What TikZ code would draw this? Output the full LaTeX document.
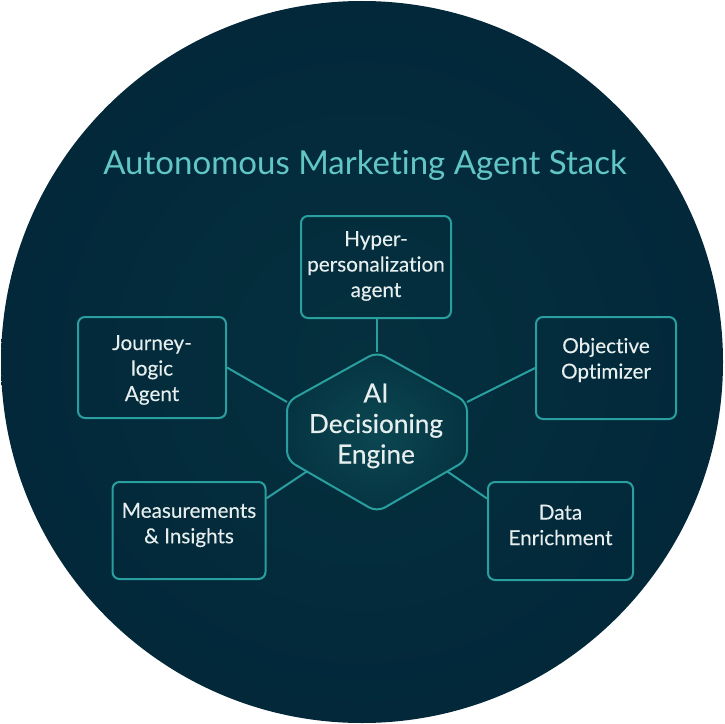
\documentclass[tikz,border=0pt]{standalone}
\usepackage{fontspec}
\setmainfont[Ligatures=NoCommon]{Lato}
\newfontfamily\hexfont[FakeBold=0.3,Ligatures=NoCommon]{Lato}
\newfontfamily\boxfont[FakeBold=0.15,Ligatures=NoCommon]{Lato}
\usetikzlibrary{calc}
\definecolor{circin}{HTML}{05303E}
\definecolor{circout}{HTML}{02283A}
\definecolor{hexin}{HTML}{0B4752}
\definecolor{hexout}{HTML}{053441}
\definecolor{tealline}{HTML}{2A9FA0}
\definecolor{titlec}{HTML}{62C6C6}
\definecolor{txtc}{HTML}{E6EEEE}
\tikzset{
  agentbox/.style={draw=tealline, line width=2bp, rounded corners=7bp, inner sep=0pt},
  boxtxt/.style={text=txtc, align=center, inner sep=0pt, font=\boxfont\fontsize{20.7bp}{25.5bp}\selectfont},
  hextxt/.style={text=txtc, align=center, inner sep=0pt, font=\hexfont\fontsize{26.2bp}{30.5bp}\selectfont},
  link/.style={draw=tealline, line width=2bp},
  titletxt/.style={text=titlec, inner sep=0pt, font=\fontsize{33bp}{38bp}\selectfont}
}
\begin{document}
\begin{tikzpicture}[x=1bp,y=-1bp]
\useasboundingbox (0,0) rectangle (724,724);
\fill[white] (0,0) rectangle (724,724);
\shade[inner color=circin, outer color=circout] (362,362) circle[radius=361];

% title
\node[titletxt, anchor=base] (title) at (365,174.6) {Autonomous Marketing Agent Stack};

% hexagon corners
\coordinate (hT) at (377,352);
\coordinate (hUR) at (467,402);
\coordinate (hLR) at (467,460);
\coordinate (hB) at (377,512);
\coordinate (hLL) at (287,460);
\coordinate (hUL) at (287,402);
\coordinate (hDR) at ($(hLR)!0.22!(hB)$);
\coordinate (hDL) at ($(hLL)!0.22!(hB)$);

% boxes
\node[agentbox, minimum width=150bp, minimum height=102bp] (hyp) at (376,267) {};
\node[agentbox, minimum width=148bp, minimum height=101bp] (jour) at (152,367.5) {};
\node[agentbox, minimum width=140bp, minimum height=102bp] (obj) at (606,368) {};
\node[agentbox, minimum width=145bp, minimum height=98bp] (data) at (560.5,531) {};
\node[agentbox, minimum width=153bp, minimum height=97bp] (meas) at (189,530.5) {};

% connectors
\draw[link] (hyp.south -| hT) -- (hT);
\draw[link] (jour.east) -- (hUL);
\draw[link] (obj.west) -- (hUR);
\draw[link] ($(data.north west)!0.175!(data.south west)$) -- (hDR);
\draw[link] ($(meas.north east)!0.175!(meas.south east)$) -- (hDL);

% hexagon
\shade[rounded corners=9bp, inner color=hexin, outer color=hexout]
  (hT) -- (hUR) -- (hLR) -- (hB) -- (hLL) -- (hUL) -- cycle;
\draw[link, rounded corners=9bp]
  (hT) -- (hUR) -- (hLR) -- (hB) -- (hLL) -- (hUL) -- cycle;
\node[hextxt] (engine) at (376,426) {AI\\Decisioning\\Engine};

% box texts
\node[boxtxt] (hypT) at (376,266) {Hyper-\\personalization\\agent};
\node[boxtxt] (jourT) at (152,370) {Journey-\\logic\\Agent};
\node[boxtxt] (objT) at (606,360) {Objective\\Optimizer};
\node[boxtxt] (dataT) at (560.5,525) {Data\\Enrichment};
\node[boxtxt] (measT) at (189,525) {Measurements\\\& Insights};
\end{tikzpicture}
\end{document}
